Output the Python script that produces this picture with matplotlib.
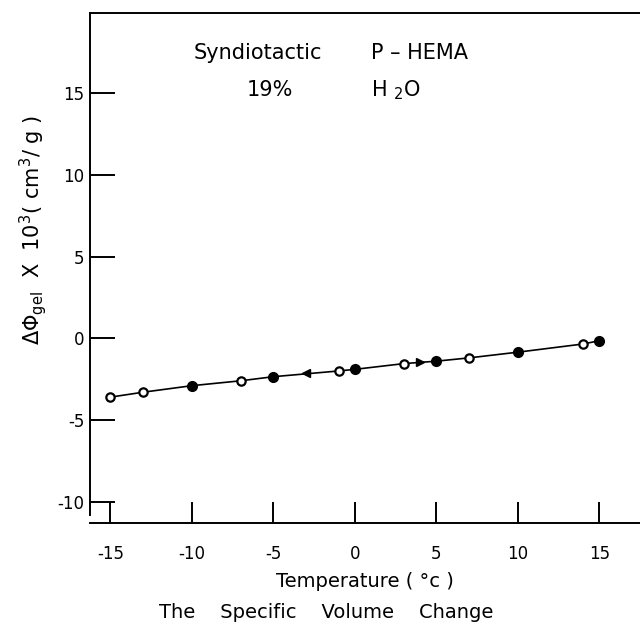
import matplotlib
matplotlib.use("Agg")
import matplotlib.pyplot as plt
import numpy as np

# Data
open_T = [-15, -13, -7, -1, 3, 7, 14]
open_V = [-3.6, -3.3, -2.6, -2.0, -1.55, -1.2, -0.35]
filled_T = [-10, -5, 0, 5, 10, 15]
filled_V = [-2.9, -2.35, -1.9, -1.4, -0.85, -0.15]
arrow_T = [-3.0, 4.0]
arrow_V = [-2.15, -1.47]
arrow_dir = ['<', '>']

xticks = [-15, -10, -5, 0, 5, 10, 15]
xticklabels = ['-15', '-10', '-5', '0', '5', '10', '15']
yticks = [15, 10, 5, 0, -5, -10]
yticklabels = ['15', '10', '5', '0', '-5', '-10']

plt.rcParams['font.family'] = ['DejaVu Sans']
plt.rcParams['mathtext.fontset'] = 'dejavusans'

fig = plt.figure(figsize=(6.4, 6.24), dpi=100)
ax = fig.add_axes([90/640, 1 - 523/624, 1 - 90/640, (523 - 13)/624])

# line through all points in temperature order
all_T = np.array(open_T + filled_T)
all_V = np.array(open_V + filled_V)
order = np.argsort(all_T)
ax.plot(all_T[order], all_V[order], color='black', lw=1.2, zorder=1)

ax.plot(open_T, open_V, linestyle='none', marker='o', ms=6, mfc='white',
        mec='black', mew=1.6, zorder=3)
ax.plot(filled_T, filled_V, linestyle='none', marker='o', ms=7, mfc='black',
        mec='black', zorder=3)
for t, v, d in zip(arrow_T, arrow_V, arrow_dir):
    ax.plot([t], [v], linestyle='none', marker=d, ms=6, color='black', zorder=2)

ax.set_xlim(-16.25, 17.5)
ax.set_ylim(-11.3, 19.9)
ax.set_xticks(xticks)
ax.set_xticklabels(xticklabels, fontsize=12)
ax.set_yticks(yticks)
ax.set_yticklabels(yticklabels, fontsize=12)
ax.tick_params(axis='x', direction='in', length=15, width=1.4, pad=16)
ax.tick_params(axis='y', direction='in', length=18, width=1.4, pad=4)

ax.spines['right'].set_visible(False)
for s in ['left', 'top', 'bottom']:
    ax.spines[s].set_linewidth(1.4)
ax.spines['left'].set_bounds(-10.8, 19.9)

ax.set_xlabel('Temperature ( °c )', fontsize=14, labelpad=6)
ax.set_ylabel(r'$\Delta\Phi_{\mathrm{gel}}$  X  $10^3$( cm$^3$/ g )', fontsize=15)
ax.yaxis.set_label_coords(-0.075, 0.575)

fig.text(326/640, 1 - 612/624, 'The    Specific    Volume    Change',
         fontsize=14, ha='center', va='center')

ax.text(258/640, 1 - 53/624, 'Syndiotactic', fontsize=15, ha='center',
        va='center', transform=fig.transFigure)
ax.text(371/640, 1 - 53/624, 'P – HEMA', fontsize=15, ha='left',
        va='center', transform=fig.transFigure)
ax.text(270/640, 1 - 90/624, '19%', fontsize=15, ha='center',
        va='center', transform=fig.transFigure)
ax.text(371/640, 1 - 90/624, r'H $_{2}$O', fontsize=15, ha='left',
        va='center', transform=fig.transFigure)

fig.savefig('out.png', dpi=100)
